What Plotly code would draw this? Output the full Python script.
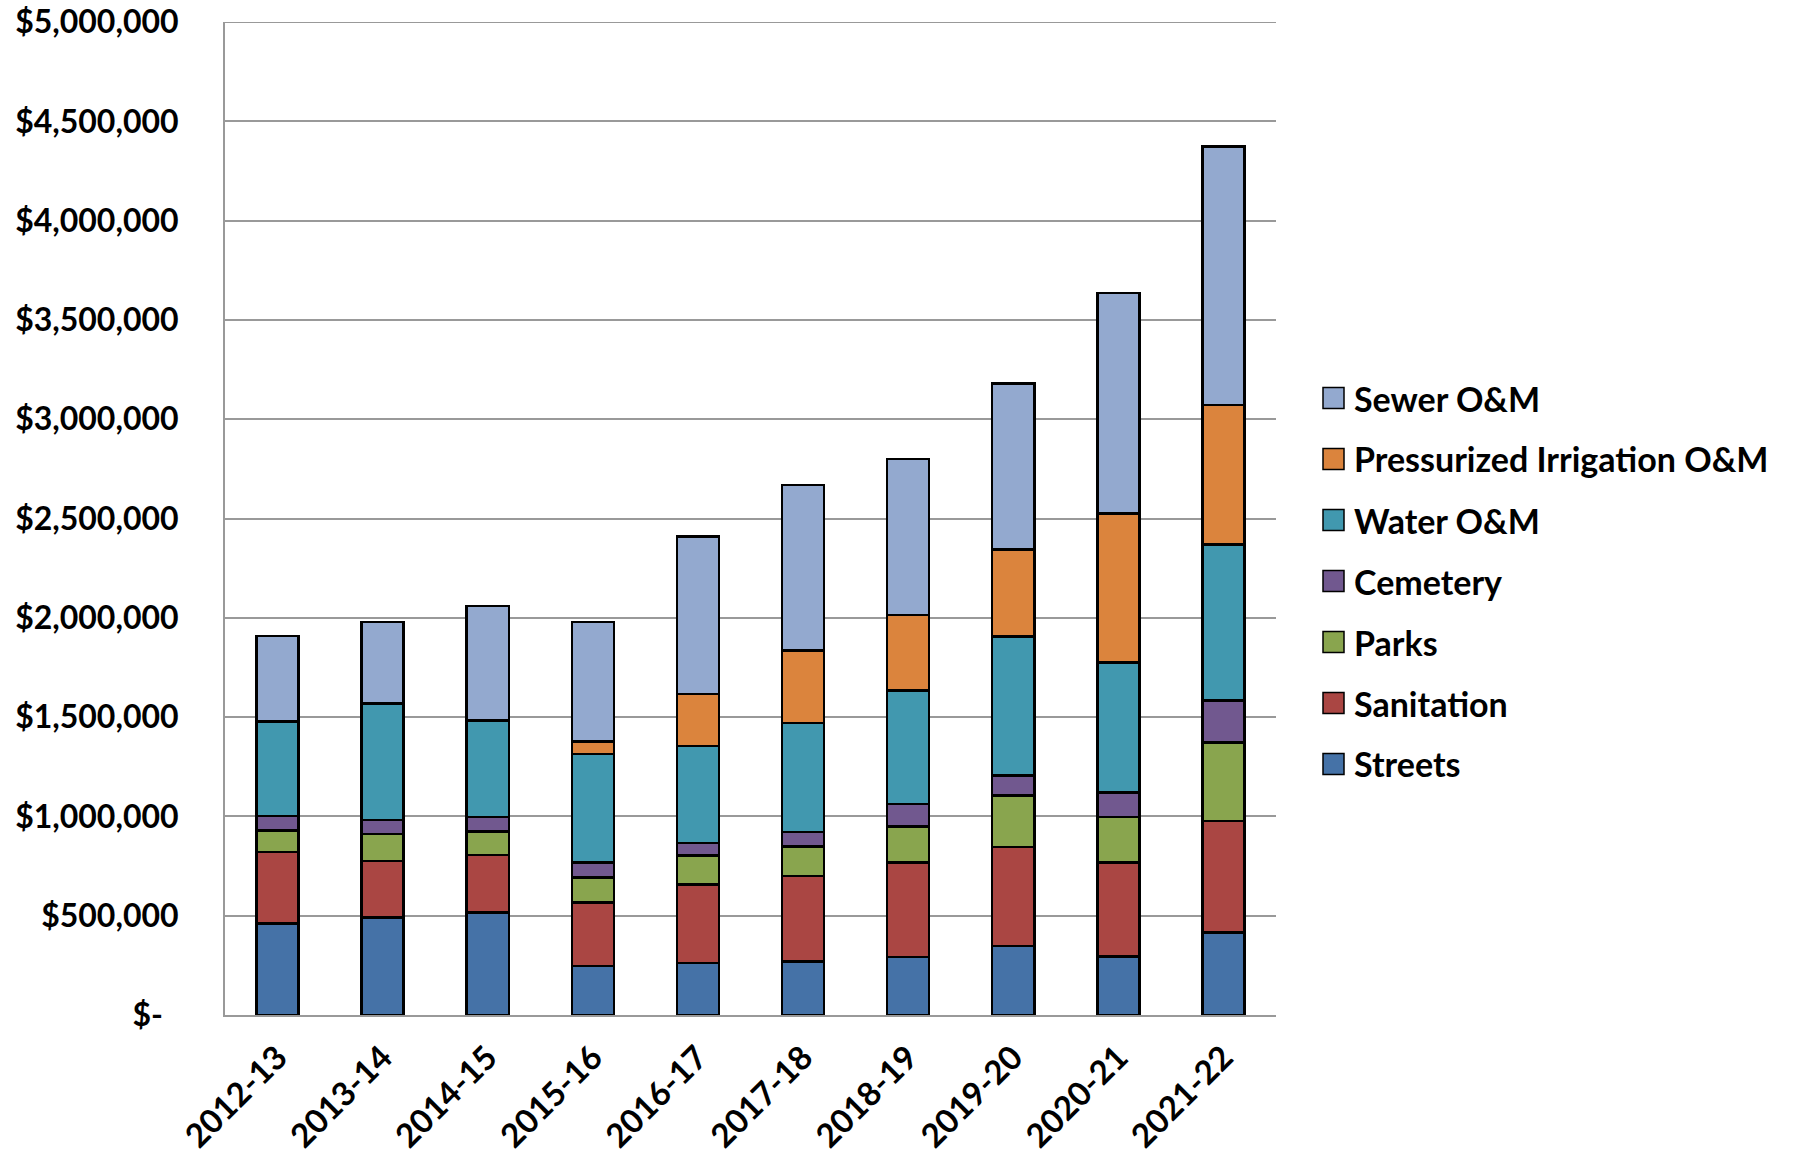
import plotly.graph_objects as go

# Fiscal years on the category axis
years = ["2012-13", "2013-14", "2014-15", "2015-16", "2016-17",
         "2017-18", "2018-19", "2019-20", "2020-21", "2021-22"]

# Annual spending by department (dollars)
streets = [462000, 490000, 517000, 248000, 263000, 269000, 291000, 347000, 295000, 416000]
sanitation = [360000, 285000, 289000, 319000, 394000, 432000, 478000, 500000, 474000, 561000]
parks = [108000, 136000, 119000, 126000, 147000, 148000, 179000, 259000, 228000, 396000]
cemetery = [72000, 72000, 73000, 74000, 62000, 73000, 114000, 101000, 124000, 211000]
water_om = [475000, 586000, 484000, 547000, 488000, 548000, 572000, 698000, 654000, 786000]
pi_om = [0, 0, 0, 64000, 262000, 366000, 381000, 440000, 751000, 702000]
sewer_om = [431000, 411000, 577000, 602000, 794000, 832000, 784000, 835000, 1110000, 1301000]

# Y-axis tick values and accounting-style labels
y_ticks = [0, 500000, 1000000, 1500000, 2000000, 2500000, 3000000, 3500000, 4000000, 4500000, 5000000]
y_labels = ["$-\u00a0\u00a0", "$500,000", "$1,000,000", "$1,500,000", "$2,000,000", "$2,500,000",
            "$3,000,000", "$3,500,000", "$4,000,000", "$4,500,000", "$5,000,000"]

series = [
    ("Streets", streets, "#4572A7"),
    ("Sanitation", sanitation, "#AA4643"),
    ("Parks", parks, "#89A54E"),
    ("Cemetery", cemetery, "#71588F"),
    ("Water O&M", water_om, "#4198AF"),
    ("Pressurized Irrigation O&M", pi_om, "#DB843D"),
    ("Sewer O&M", sewer_om, "#93A9CF"),
]

FONT = "Lato"
W, H = 1795, 1155
ML, MR, MT, MB = 225, 519, 22, 140
PW, PH = W - ML - MR, H - MT - MB
GRID = "#999999"

fig = go.Figure()
for name, vals, color in series:
    fig.add_trace(go.Bar(
        x=years, y=vals, name=name,
        marker=dict(color=color, line=dict(color="black", width=2.5)),
        showlegend=False,
    ))

# Legend drawn as swatches + labels, top entry = top of stack
def px_to_paper(px, py):
    return (px - ML) / PW, (H - MB - py) / PH

shapes = [
    # gridline at the top of the value range
    dict(type="line", xref="paper", yref="y", x0=0, x1=1,
         y0=y_ticks[-1], y1=y_ticks[-1], line=dict(color=GRID, width=2), layer="below"),
]
annotations = []
legend_top = 398
legend_step = 61
for i, (name, vals, color) in enumerate(reversed(series)):
    cy = legend_top + i * legend_step
    x0, y0 = px_to_paper(1323, cy + 10.5)
    x1, y1 = px_to_paper(1344, cy - 10.5)
    shapes.append(dict(type="rect", xref="paper", yref="paper",
                       x0=x0, y0=y0, x1=x1, y1=y1,
                       fillcolor=color, line=dict(color="black", width=1.5)))
    tx, ty = px_to_paper(1352, cy)
    annotations.append(dict(xref="paper", yref="paper", x=tx, y=ty,
                            xanchor="left", yanchor="middle", showarrow=False,
                            text=name,
                            font=dict(family=FONT, size=34, color="black", weight="bold")))

fig.update_layout(
    width=W, height=H,
    margin=dict(l=ML, r=MR, t=MT, b=MB, pad=0, autoexpand=False),
    barmode="stack", bargap=0.6,
    plot_bgcolor="white", paper_bgcolor="white",
    font=dict(family=FONT, color="black"),
    shapes=shapes, annotations=annotations,
    xaxis=dict(
        tickangle=-45, tickfont=dict(family=FONT, size=33, color="black", weight="bold"),
        showgrid=False, showline=True, linecolor=GRID, linewidth=2,
        ticks="", ticklabelstandoff=8, automargin=False,
    ),
    yaxis=dict(
        range=[0, 5000000], tickvals=y_ticks, ticktext=y_labels,
        tickfont=dict(family=FONT, size=32, color="black", weight="bold"),
        showgrid=True, gridcolor=GRID, gridwidth=2,
        showline=True, linecolor=GRID, linewidth=2,
        zeroline=False, ticks="", ticklabelstandoff=38, automargin=False,
    ),
)

fig.write_html("out.html")
